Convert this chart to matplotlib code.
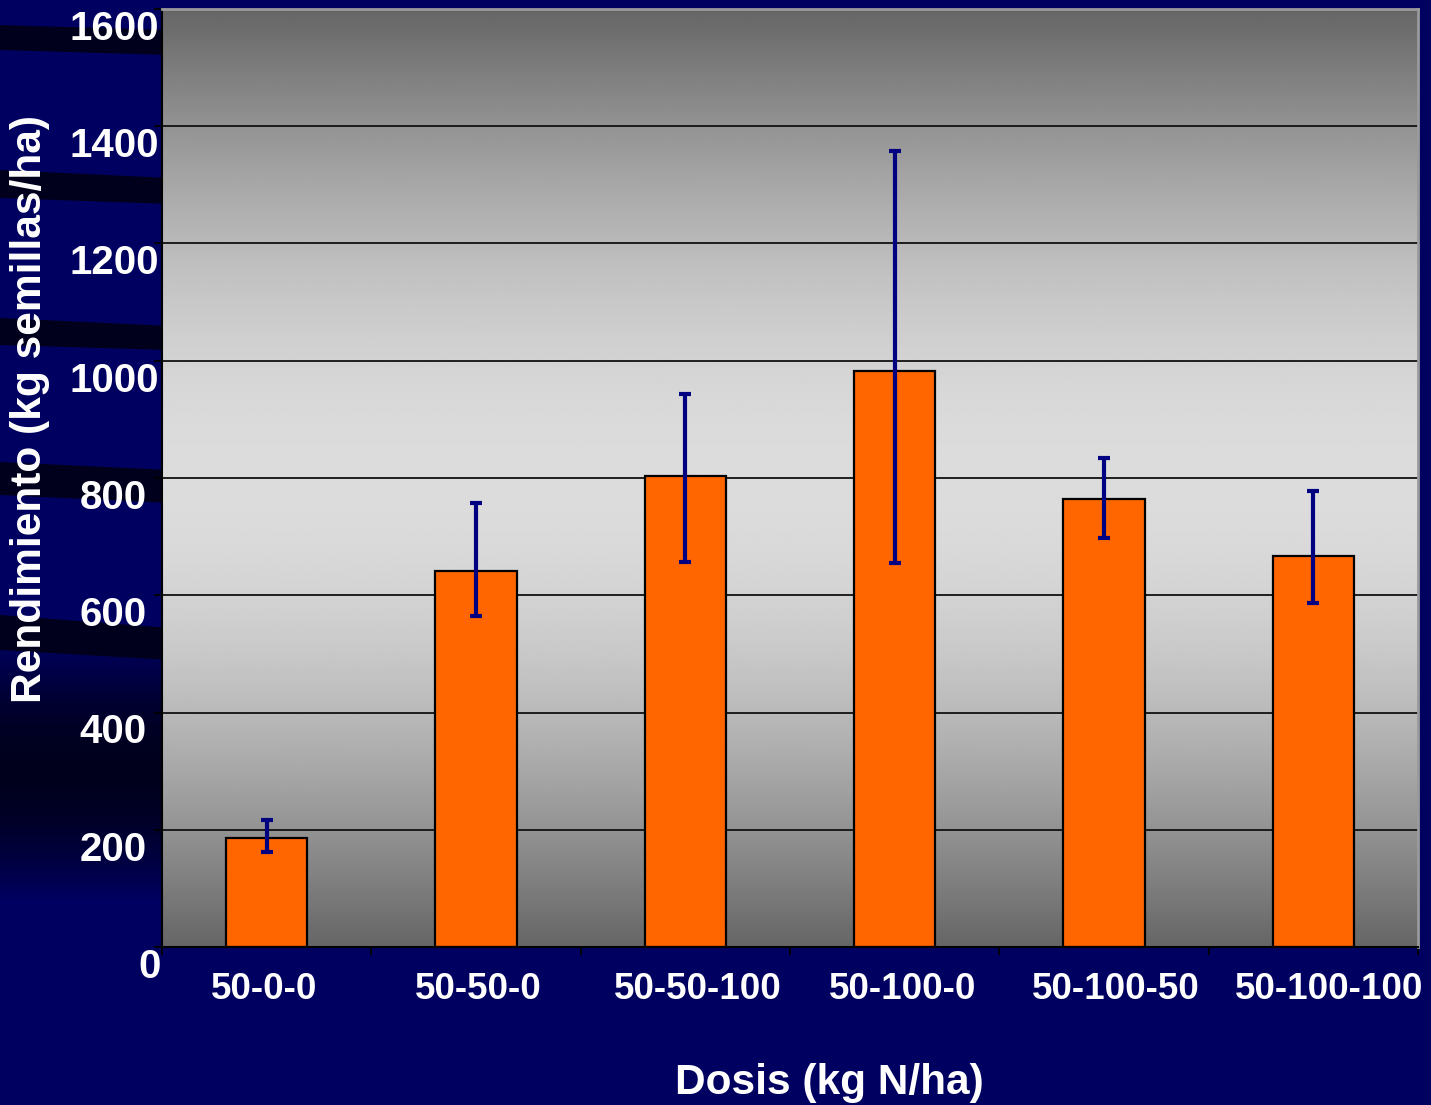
import numpy as np
import matplotlib
matplotlib.use("Agg")
import matplotlib.pyplot as plt
import matplotlib.transforms as mtransforms
from matplotlib.patches import Polygon

categories = ["50-0-0", "50-50-0", "50-50-100", "50-100-0", "50-100-50", "50-100-100"]
yields = [186, 642, 804, 983, 765, 667]
err_low = [24, 77, 147, 328, 67, 80]
err_high = [31, 116, 140, 375, 69, 111]
yticks = [0, 200, 400, 600, 800, 1000, 1200, 1400, 1600]

NAVY = "#000060"
FONT = ["Liberation Sans", "DejaVu Sans"]

W, H = 1431, 1105
fig = plt.figure(figsize=(W / 100, H / 100), dpi=100, facecolor=NAVY)

# background decoration (template streaks)
bg = fig.add_axes([0, 0, 1, 1], zorder=-10)
bg.set_xlim(0, W)
bg.set_ylim(H, 0)
bg.axis("off")
bands = [(25, 50, 30, 55), (170, 198, 178, 204), (318, 345, 326, 350),
         (462, 495, 470, 503), (615, 650, 628, 660)]
for y0, y1, y2, y3 in bands:
    bg.add_patch(Polygon([(0, y0), (170, y2), (170, y3), (0, y1)],
                         closed=True, color="#00001c", lw=0))
grad = np.linspace(0, 1, 200)
alpha = np.clip(np.sin(np.pi * grad), 0, 1) * 0.7
img = np.zeros((200, 1, 4))
img[:, 0, 3] = alpha
bg.imshow(img, extent=(0, 170, 900, 640), aspect="auto", interpolation="bilinear")

left, right = 162 / W, 1418 / W
bottom, top = 1 - 947 / H, 1 - 9 / H
ax = fig.add_axes([left, bottom, right - left, top - bottom])
ax.set_xlim(-0.5, len(categories) - 0.5)
ax.set_ylim(0, 1600)

# plot-area gradient
v = np.linspace(0, 1600, 400)
g = (0x66 + (0xdc - 0x66) * np.sin(np.pi * v / 1600)) / 255.0
grad_img = np.repeat(g[:, None], 2, axis=1)
ax.imshow(grad_img, cmap="gray", vmin=0, vmax=1, origin="lower",
          extent=(-0.5, len(categories) - 0.5, 0, 1600), aspect="auto",
          zorder=0, interpolation="bilinear")

for yv in yticks[1:-1]:
    ax.axhline(yv, color="#111111", lw=1.3, zorder=1)

x = np.arange(len(categories))
ax.bar(x, yields, width=0.39, color="#FF6600", edgecolor="black",
       linewidth=1.6, zorder=2)
ax.errorbar(x, yields, yerr=[err_low, err_high], fmt="none",
            ecolor="#000080", elinewidth=3, capsize=4.5, capthick=3, zorder=3)

for s in ["top", "right"]:
    ax.spines[s].set_color("#9a9a9a")
    ax.spines[s].set_linewidth(2)
for s in ["left", "bottom"]:
    ax.spines[s].set_color("black")
    ax.spines[s].set_linewidth(1.5)

ax.set_yticks(yticks)
ax.set_yticklabels([str(t) for t in yticks], fontsize=29, fontweight="bold",
                   color="white", family=FONT)
ax.tick_params(axis="y", length=6, width=1.3, color="black", pad=-5, direction="out")

ax.set_xticks(x)
ax.set_xticklabels(categories, fontsize=26.5, fontweight="bold", color="white", family=FONT)
ax.tick_params(axis="x", which="major", length=0, pad=18)
ax.set_xticks(np.arange(-0.5, len(categories), 1.0), minor=True)
ax.tick_params(axis="x", which="minor", length=6, width=1.3, color="black", direction="out")

for lab, t in zip(ax.get_yticklabels(), yticks):
    dx = 0 if t == 0 else (-2 if t >= 1000 else -14)
    lab.set_transform(lab.get_transform() +
                      mtransforms.ScaledTranslation(dx / 100, -16 / 100, fig.dpi_scale_trans))
x_shift_px = [-3, 2, 12, 8, 12, 16]
for lab, dx in zip(ax.get_xticklabels(), x_shift_px):
    lab.set_transform(lab.get_transform() +
                      mtransforms.ScaledTranslation(dx / 100, 0, fig.dpi_scale_trans))

fig.text(30 / W, 1 - 409 / H, "Rendimiento (kg semillas/ha)", rotation=90,
         ha="center", va="center", fontsize=30.6, fontweight="bold",
         color="white", family=FONT)
fig.text(829 / W, 1 - 1083 / H, "Dosis (kg N/ha)", ha="center", va="center",
         fontsize=30.5, fontweight="bold", color="white", family=FONT)

fig.savefig("out.png", dpi=100, facecolor=NAVY)
